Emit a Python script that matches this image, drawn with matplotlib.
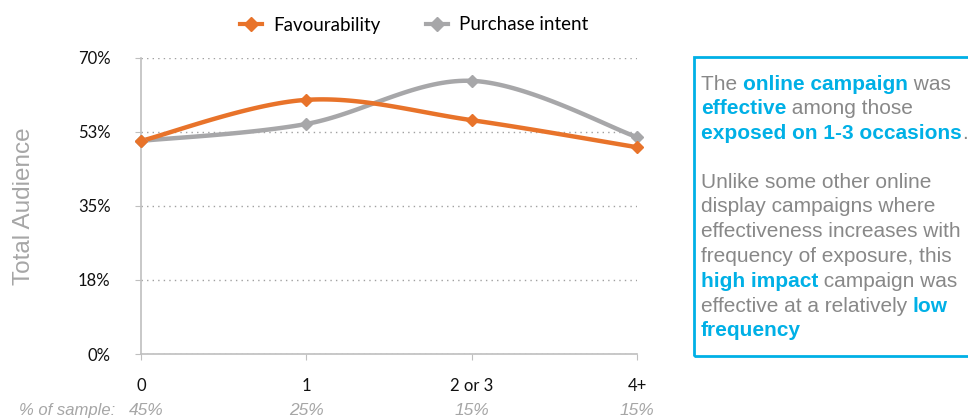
import numpy as np
import matplotlib
matplotlib.use("Agg")
import matplotlib.pyplot as plt
from matplotlib.lines import Line2D
from matplotlib.patches import Rectangle
import matplotlib.transforms as mtransforms

# data
categories = ["0", "1", "2 or 3", "4+"]
sample_share = ["45%", "25%", "15%", "15%"]
favourability = [50.4, 60.1, 55.3, 48.9]
purchase_intent = [50.4, 54.4, 64.6, 51.3]
y_ticks = [0, 17.5, 35, 52.5, 70]
y_tick_labels = ["0%", "18%", "35%", "53%", "70%"]

ORANGE = "#E8732A"
GREY = "#A7A7A9"
CYAN = "#00B0E6"
TXTGREY = "#888888"


def smooth(xs, ys, n=40):
    # excel-like smoothed line (catmull-rom through the points)
    xs = np.asarray(xs, float)
    ys = np.asarray(ys, float)
    px = np.concatenate([[xs[0]], xs, [xs[-1]]])
    py = np.concatenate([[ys[0]], ys, [ys[-1]]])
    outx, outy = [], []
    for i in range(1, len(px) - 2):
        p0 = np.array([px[i - 1], py[i - 1]])
        p1 = np.array([px[i], py[i]])
        p2 = np.array([px[i + 1], py[i + 1]])
        p3 = np.array([px[i + 2], py[i + 2]])
        c1 = p1 + (p2 - p0) / 6.0
        c2 = p2 - (p3 - p1) / 6.0
        t = np.linspace(0, 1, n)[:, None]
        b = ((1 - t) ** 3) * p1 + 3 * ((1 - t) ** 2) * t * c1 + 3 * (1 - t) * t ** 2 * c2 + t ** 3 * p2
        outx.extend(b[:, 0])
        outy.extend(b[:, 1])
    return outx, outy


W, H = 968, 419
fig = plt.figure(figsize=(W / 100, H / 100), dpi=100)
ax = fig.add_axes([141 / W, (H - 354) / H, (637 - 141) / W, (354 - 58) / H])

x = np.arange(len(categories))
for vals, col in [(purchase_intent, GREY), (favourability, ORANGE)]:
    sx, sy = smooth(x, vals)
    ax.plot(sx, sy, color=col, lw=3.2, solid_capstyle="round", clip_on=False, zorder=3)
    ax.plot(x, vals, ls="none", marker="D", ms=6.5, color=col, clip_on=False, zorder=4)

ax.set_xlim(0, 3)
ax.set_ylim(0, 70)
ax.set_yticks(y_ticks)
ax.set_yticklabels(y_tick_labels)
ax.set_xticks(x)
ax.set_xticklabels(categories)
for s in ["top", "right"]:
    ax.spines[s].set_visible(False)
for s in ["left", "bottom"]:
    ax.spines[s].set_color("#BFBFBF")
    ax.spines[s].set_linewidth(1.2)
ax.grid(axis="y", ls=(0, (1, 3)), color="#A0A0A0", lw=1)
ax.grid(axis="x", visible=False)
ax.tick_params(axis="y", length=4, color="#BFBFBF", pad=18, labelsize=12, labelcolor="#111111")
ax.tick_params(axis="x", length=4, color="#BFBFBF", pad=13, labelsize=12, labelcolor="#111111")
for lab in ax.get_xticklabels() + ax.get_yticklabels():
    lab.set_family("Lato")

ax.set_ylabel("Total Audience", family="Liberation Sans", fontsize=17.5, color="#A6A6A6")
ax.yaxis.set_label_coords(-(141 - 35) / 496, 0.5)

# % of sample row
off = mtransforms.blended_transform_factory(ax.transData, fig.transFigure)
ysamp = (H - 410) / H
for i, s in enumerate(sample_share):
    dx = 5 if i == 0 else 0
    t = mtransforms.offset_copy(off, fig=fig, x=dx, y=0, units="dots")
    fig.text(i, ysamp, s, transform=t, ha="center", va="center", style="italic",
             family="Liberation Sans", fontsize=12.5, color="#A6A6A6")
t = mtransforms.offset_copy(off, fig=fig, x=-26, y=0, units="dots")
fig.text(0, ysamp, "% of sample:", transform=t, ha="right", va="center", style="italic",
         family="Liberation Sans", fontsize=12, color="#A6A6A6")

# legend
handles = [Line2D([], [], color=ORANGE, lw=3, marker="D", ms=7),
           Line2D([], [], color=GREY, lw=3, marker="D", ms=7)]
fig.legend(handles, ["Favourability", "Purchase intent"], loc="center",
           bbox_to_anchor=(414 / W, (H - 25) / H), ncol=2, frameon=False,
           handlelength=1.2, handletextpad=0.6, columnspacing=2.4,
           prop={"family": "Lato", "size": 13.5})

# annotation box
fig.patches.append(Rectangle((694 / W, (H - 356) / H), 400 / W, 299 / H,
                             transform=fig.transFigure, fill=False,
                             edgecolor=CYAN, lw=2, figure=fig))

lines = [
    [("The ", TXTGREY, "normal"), ("online campaign", CYAN, "bold"), (" was", TXTGREY, "normal")],
    [("effective", CYAN, "bold"), (" among those", TXTGREY, "normal")],
    [("exposed on 1-3 occasions", CYAN, "bold"), (".", TXTGREY, "normal")],
    None,
    [("Unlike some other online", TXTGREY, "normal")],
    [("display campaigns where", TXTGREY, "normal")],
    [("effectiveness increases with", TXTGREY, "normal")],
    [("frequency of exposure, this", TXTGREY, "normal")],
    [("high impact", CYAN, "bold"), (" campaign was", TXTGREY, "normal")],
    [("effective at a relatively ", TXTGREY, "normal"), ("low", CYAN, "bold")],
    [("frequency", CYAN, "bold")],
]
line_y = [84, 108, 133, None, 182, 206, 231, 256, 281, 306, 330]
for parts, yy in zip(lines, line_y):
    if parts is None:
        continue
    prev = None
    for txt, col, wt in parts:
        if prev is None:
            prev = fig.text(701 / W, (H - yy - 6) / H, txt, ha="left", va="baseline",
                            color=col, fontweight=wt, family="Liberation Sans", fontsize=15)
        else:
            prev = ax.annotate(txt, xy=(1, 0), xycoords=prev, ha="left", va="bottom",
                               color=col, fontweight=wt, family="Liberation Sans",
                               fontsize=15, annotation_clip=False)

fig.savefig("out.png", dpi=100)
